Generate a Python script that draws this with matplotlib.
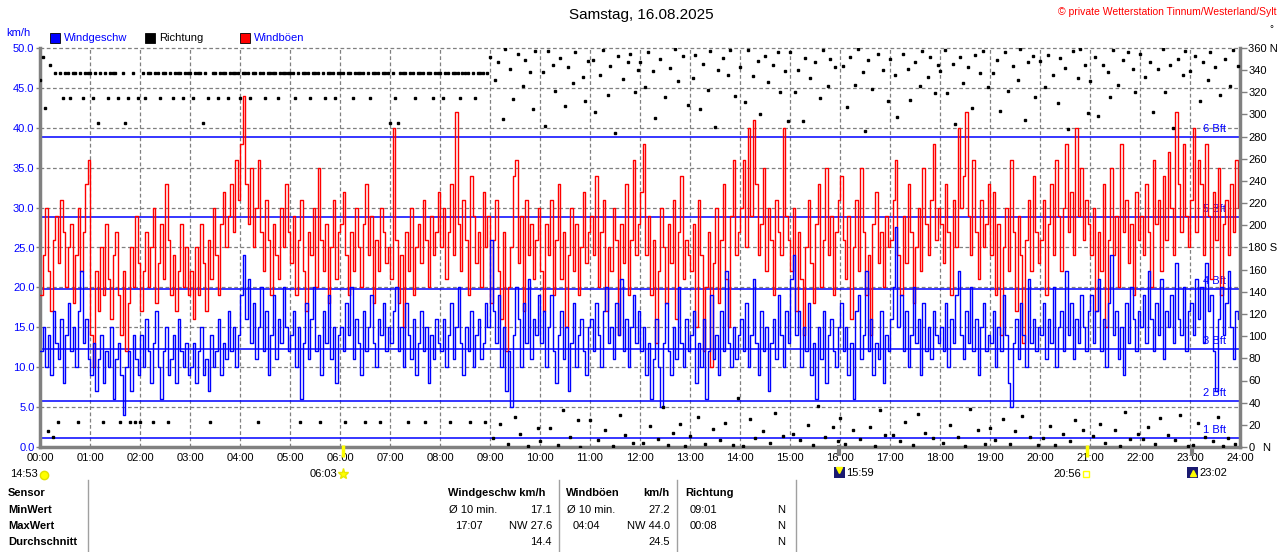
import numpy as np
import matplotlib
matplotlib.use("Agg")
import matplotlib.pyplot as plt
from matplotlib.patches import Rectangle

plt.rcParams['font.family'] = ['Liberation Sans', 'DejaVu Sans']

# Windböen (km/h), 3-Minuten-Werte, eine Zeile je Stunde
gust = [
    19, 24, 30, 22, 17, 26, 29, 23, 31, 27, 20, 25, 28, 18, 24, 30, 22, 27, 33, 36,
    14, 10, 22, 17, 25, 19, 28, 21, 16, 24, 27, 19, 14, 22, 12, 18, 25, 20, 29, 23,
    17, 22, 27, 20, 25, 30, 18, 23, 28, 21, 33, 26, 19, 24, 17, 22, 28, 20, 25, 19,
    22, 16, 25, 19, 28, 23, 17, 26, 21, 30, 24, 19, 28, 32, 25, 29, 33, 27, 36, 31,
    38, 44, 33, 28, 35, 25, 30, 36, 27, 22, 31, 26, 19, 28, 24, 21, 30, 25, 33, 27,
    23, 29, 19, 26, 31, 22, 17, 27, 24, 30, 20, 35, 26, 22, 28, 18, 25, 31, 21, 27,
    28, 32, 24, 19, 27, 22, 30, 25, 20, 28, 33, 24, 29, 18, 26, 22, 30, 27, 23, 25,
    21, 40, 26, 18, 24, 15, 27, 22, 30, 19, 25, 28, 23, 31, 26, 20, 29, 24, 27, 32,
    25, 30, 21, 27, 33, 24, 42, 28, 22, 31, 26, 19, 34, 29, 23, 27, 20, 32, 25, 29,
    18, 26, 31, 22, 16, 27, 12, 20, 25, 34, 36, 23, 29, 17, 31, 24, 28, 21, 26, 30,
    22, 17, 28, 24, 31, 19, 26, 33, 21, 27, 15, 24, 30, 22, 28, 19, 25, 32, 23, 27,
    29, 24, 34, 20, 27, 31, 17, 25, 22, 30, 26, 14, 28, 23, 33, 19, 26, 36, 24, 28,
    32, 38, 24, 29, 19, 26, 13, 22, 30, 25, 18, 28, 23, 31, 16, 27, 34, 21, 26, 24,
    22, 28, 15, 31, 24, 12, 20, 27, 10, 23, 30, 18, 26, 33, 21, 15, 29, 36, 24, 27,
    30, 36, 25, 40, 29, 41, 33, 24, 28, 35, 22, 30, 26, 19, 31, 27, 24, 40, 29, 26,
    22, 30, 17, 27, 21, 14, 25, 31, 23, 18, 28, 33, 20, 26, 35, 24, 29, 19, 27, 31,
    34, 26, 21, 29, 16, 25, 31, 22, 35, 27, 19, 24, 14, 28, 32, 23, 27, 20, 29, 25,
    26, 31, 36, 24, 19, 29, 23, 33, 27, 18, 25, 30, 22, 35, 28, 24, 31, 38, 26, 30,
    28, 23, 33, 27, 19, 31, 25, 40, 30, 34, 42, 29, 24, 36, 27, 21, 31, 25, 28, 33,
    24, 32, 19, 28, 14, 25, 30, 22, 36, 27, 17, 29, 24, 13, 26, 31, 22, 34, 27, 23,
    26, 31, 19, 28, 33, 24, 36, 29, 22, 30, 38, 27, 32, 24, 40, 29, 35, 26, 31, 28,
    24, 30, 17, 27, 22, 33, 15, 26, 35, 24, 29, 20, 38, 27, 31, 23, 28, 19, 32, 26,
    29, 24, 33, 27, 20, 36, 28, 31, 22, 34, 26, 37, 30, 24, 42, 33, 27, 38, 29, 25,
    31, 40, 27, 36, 33, 24, 38, 29, 21, 32, 26, 35, 19, 28, 31, 24, 33, 27, 36, 30,
]

# Windgeschwindigkeit (km/h)
speed = [
    12, 15, 10, 14, 9, 17, 13, 11, 16, 8, 14, 18, 12, 15, 10, 17, 22, 13, 16, 11,
    9, 13, 7, 11, 14, 8, 12, 10, 15, 6, 11, 13, 9, 4, 10, 12, 7, 14, 11, 9,
    14, 10, 16, 12, 8, 13, 17, 10, 6, 12, 15, 9, 11, 14, 8, 16, 12, 10, 13, 9,
    10, 13, 8, 12, 15, 9, 11, 7, 14, 10, 12, 16, 9, 13, 11, 17, 12, 15, 10, 14,
    19, 24, 16, 21, 13, 18, 11, 15, 20, 12, 17, 9, 14, 19, 11, 16, 13, 20, 15, 12,
    14, 17, 10, 15, 6, 13, 18, 11, 16, 20, 12, 14, 9, 17, 13, 19, 11, 15, 8, 14,
    15, 12, 18, 14, 20, 11, 16, 13, 9, 17, 12, 15, 19, 13, 10, 16, 14, 18, 12, 15,
    13, 17, 20, 12, 15, 10, 18, 14, 11, 16, 9, 13, 17, 12, 15, 8, 14, 11, 16, 13,
    12, 16, 10, 14, 18, 11, 15, 20, 13, 9, 15, 12, 17, 10, 14, 16, 11, 13, 18, 15,
    26, 17, 13, 19, 10, 15, 7, 12, 5, 14, 20, 16, 10, 18, 13, 21, 11, 16, 14, 19,
    13, 17, 10, 15, 19, 12, 8, 14, 17, 11, 15, 7, 13, 18, 10, 14, 16, 12, 9, 15,
    16, 12, 18, 14, 10, 17, 20, 13, 15, 11, 18, 14, 21, 12, 16, 10, 15, 19, 13, 17,
    12, 15, 9, 13, 6, 11, 16, 10, 5, 13, 18, 12, 9, 15, 11, 20, 13, 10, 16, 12,
    14, 17, 8, 13, 10, 16, 6, 12, 19, 11, 14, 9, 17, 12, 22, 13, 10, 15, 11, 14,
    16, 12, 18, 10, 14, 21, 13, 9, 17, 12, 15, 7, 13, 16, 11, 19, 14, 10, 17, 13,
    21, 24, 14, 17, 10, 15, 12, 18, 9, 13, 6, 15, 11, 17, 8, 14, 16, 12, 10, 15,
    18, 12, 15, 9, 13, 6, 17, 19, 11, 14, 22, 12, 16, 9, 13, 11, 17, 8, 14, 12,
    16, 20, 27.6, 15, 19, 12, 17, 10, 14, 20, 13, 16, 9, 18, 12, 15, 11, 17, 14, 13,
    15, 12, 18, 10, 16, 13, 19, 22, 14, 11, 17, 13, 20, 12, 16, 9, 15, 18, 12, 14,
    13, 17, 10, 15, 12, 19, 14, 8, 5, 13, 16, 11, 18, 14, 10, 21, 13, 16, 12, 15,
    14, 18, 11, 16, 13, 20, 10, 15, 17, 12, 22, 14, 18, 11, 16, 13, 19, 15, 12, 17,
    19, 13, 17, 21, 12, 16, 10, 18, 24, 14, 17, 11, 15, 9, 18, 13, 20, 16, 12, 17,
    15, 19, 13, 22, 16, 12, 18, 14, 21, 11, 17, 15, 19, 13, 23, 16, 14, 20, 12, 17,
    18, 14, 21, 16, 20, 13, 23, 17, 19, 12, 7, 16, 20, 14, 18, 22, 15, 11, 17, 16,
]

# Windrichtung (Grad)
direction = [
    331, 352, 306, 14, 345, 9, 337.5, 22.5, 337.5, 315, 337.5, 337.5, 315, 337.5, 337.5, 22.5, 337.5, 315, 337.5, 337.5,
    337.5, 315, 337.5, 292.5, 337.5, 22.5, 337.5, 315, 337.5, 337.5, 337.5, 315, 22.5, 337.5, 292.5, 315, 22.5, 337.5, 22.5, 315,
    22.5, 337.5, 315, 337.5, 337.5, 22.5, 337.5, 337.5, 315, 337.5, 337.5, 22.5, 337.5, 315, 337.5, 337.5, 337.5, 315, 337.5, 337.5,
    337.5, 315, 337.5, 337.5, 337.5, 292.5, 337.5, 315, 22.5, 337.5, 337.5, 315, 337.5, 337.5, 337.5, 315, 337.5, 337.5, 337.5, 337.5,
    315, 337.5, 337.5, 337.5, 315, 337.5, 337.5, 22.5, 337.5, 337.5, 315, 337.5, 337.5, 337.5, 337.5, 315, 337.5, 337.5, 337.5, 337.5,
    337.5, 337.5, 315, 337.5, 22.5, 337.5, 337.5, 337.5, 315, 337.5, 337.5, 337.5, 22.5, 337.5, 315, 337.5, 337.5, 337.5, 315, 337.5,
    337.5, 337.5, 22.5, 337.5, 337.5, 315, 337.5, 337.5, 337.5, 337.5, 22.5, 337.5, 315, 337.5, 337.5, 337.5, 22.5, 337.5, 337.5, 337.5,
    292.5, 337.5, 315, 292.5, 337.5, 337.5, 337.5, 22.5, 337.5, 337.5, 315, 337.5, 337.5, 337.5, 22.5, 337.5, 337.5, 315, 337.5, 337.5,
    337.5, 315, 337.5, 337.5, 22.5, 337.5, 337.5, 337.5, 315, 337.5, 337.5, 337.5, 22.5, 337.5, 315, 337.5, 337.5, 337.5, 22.5, 337.5,
    352, 8, 331, 347, 21, 296, 359, 3, 341, 314, 27, 355, 12, 326, 349, 1, 338, 305, 357, 17,
    5, 338, 290, 357, 17, 345, 321, 2, 351, 33, 308, 343, 9, 328, 356, 24, 0, 334, 312, 348,
    24, 349, 302, 6, 336, 358, 15, 318, 344, 1, 283, 353, 29, 332, 11, 347, 355, 4, 320, 340,
    347, 4, 325, 356, 19, 339, 297, 7, 350, 36, 316, 2, 342, 13, 359, 330, 21, 353, 1, 309,
    10, 333, 354, 27, 305, 346, 3, 322, 357, 16, 289, 340, 6, 351, 22, 336, 358, 2, 317, 44,
    343, 1, 311, 358, 25, 335, 8, 348, 300, 14, 353, 329, 4, 345, 31, 356, 320, 10, 339, 294,
    356, 12, 320, 340, 6, 294, 351, 20, 333, 2, 347, 37, 315, 358, 9, 326, 350, 18, 343, 5,
    26, 344, 3, 307, 352, 15, 327, 359, 7, 338, 285, 349, 18, 323, 1, 355, 33, 340, 11, 312,
    350, 11, 336, 298, 5, 355, 23, 341, 313, 2, 347, 30, 326, 357, 13, 334, 352, 8, 319, 345,
    339, 4, 358, 319, 20, 346, 291, 9, 352, 328, 1, 343, 34, 306, 354, 15, 337, 357, 3, 325,
    17, 337, 6, 349, 303, 25, 356, 321, 3, 344, 14, 331, 359, 28, 295, 347, 9, 353, 316, 2,
    348, 8, 325, 354, 19, 336, 2, 310, 351, 12, 342, 287, 5, 357, 24, 333, 359, 15, 345, 301,
    330, 10, 352, 299, 21, 345, 4, 338, 316, 358, 15, 327, 1, 349, 32, 356, 7, 341, 320, 12,
    355, 7, 334, 18, 347, 302, 3, 341, 26, 359, 320, 11, 345, 288, 6, 350, 29, 336, 357, 1,
    339, 2, 353, 22, 312, 347, 9, 331, 356, 5, 343, 27, 318, 1, 350, 8, 326, 358, 3, 344,
]

bft_limits = [1.08, 5.76, 12.24, 19.8, 28.8, 38.88]
bft_labels = ["1 Bft", "2 Bft", "3 Bft", "4 Bft", "5 Bft", "6 Bft"]
hour_labels = ["%02d:00" % h for h in range(25)]

t = np.arange(len(gust)) * 3 / 60.0
t_ext = np.append(t, 24.0)
gust_ext = np.append(gust, gust[-1])
speed_ext = np.append(speed, speed[-1])

BLUE = "#0000ff"
GRAY = "#808080"

fig = plt.figure(figsize=(12.8, 5.52), dpi=100)
ax = fig.add_axes([40 / 1280, 105 / 552, 1200 / 1280, 399 / 552])
ax.set_xlim(0, 24)
ax.set_ylim(0, 50)

# Gitter
for h in range(1, 24):
    ax.axvline(h, color=GRAY, lw=0.9, ls=(0, (3, 2)), zorder=1)
for v in np.arange(5, 51, 5):
    ax.axhline(v, color=GRAY, lw=0.9, ls=(0, (3, 2)), zorder=1, clip_on=False)

# Beaufort-Grenzen
for v, lab in zip(bft_limits, bft_labels):
    ax.axhline(v, color=BLUE, lw=1.1, zorder=2)
    ax.text(23.72, v + 1.0, lab, color=BLUE, fontsize=8, ha='right', va='center', zorder=2)

ax.plot(t_ext, gust_ext, color='#ff0000', lw=1.0, drawstyle='steps-post', zorder=3)
ax.plot(t_ext, speed_ext, color=BLUE, lw=1.0, drawstyle='steps-post', zorder=4)

ax.set_xticks(range(25))
ax.set_xticklabels(hour_labels)
ax.set_yticks(np.arange(0, 51, 5))
ax.set_yticklabels(["%.1f" % v for v in np.arange(0, 51, 5)])
ax.tick_params(axis='x', length=0, pad=4, labelsize=8)
ax.tick_params(axis='y', length=3, width=1, color=GRAY, pad=1, labelsize=8, labelcolor=BLUE)
for s in ['left', 'bottom']:
    ax.spines[s].set_color(GRAY)
    ax.spines[s].set_linewidth(2.5)
ax.spines['top'].set_visible(False)
ax.spines['right'].set_visible(False)

ax2 = ax.twinx()
ax2.set_ylim(0, 360)
ax2.plot(t, direction, ls='none', marker='s', ms=2.0, color='black', mec='black', zorder=5)
ax2.set_yticks(range(0, 361, 20))
rlabels = [str(v) for v in range(0, 361, 20)]
rlabels[9] = "180 S"
rlabels[18] = "360 N"
ax2.set_yticklabels(rlabels)
ax2.tick_params(axis='y', length=5, width=1, color=GRAY, pad=1, labelsize=8)
ax2.spines['right'].set_color(GRAY)
ax2.spines['right'].set_linewidth(2.5)
for s in ['left', 'bottom', 'top']:
    ax2.spines[s].set_visible(False)

# Sonnen- und Mondzeiten
ax.vlines([6.05, 20.93], -1.3, 0.3, color='#ffff00', lw=2.5, clip_on=False, zorder=6)
ax.vlines([15.98, 23.03], -1.1, 0.3, color=GRAY, lw=3, clip_on=False, zorder=6)

ov = fig.add_axes([0, 0, 1, 1])
ov.set_xlim(0, 1280)
ov.set_ylim(552, 0)
ov.axis('off')

ov.text(641, 15, "Samstag, 16.08.2025", fontsize=11, ha='center', va='center')
ov.text(1277, 12, "© private Wetterstation Tinnum/Westerland/Sylt", fontsize=7.5,
        color='#ff0000', ha='right', va='center')
ov.text(1271, 29, "°", fontsize=7, ha='center', va='center')
ov.text(6, 33, "km/h", fontsize=8, color=BLUE, ha='left', va='center')
ov.text(1262, 448, "N", fontsize=8, ha='left', va='center')

# Legende
for x0, col, lab, tcol in [(50, BLUE, "Windgeschw", BLUE), (145, 'black', "Richtung", 'black'),
                           (240, '#ff0000', "Windböen", BLUE)]:
    ov.add_patch(Rectangle((x0, 33), 10, 10, facecolor=col, edgecolor='black', lw=0.6))
    ov.text(x0 + 14, 38, lab, fontsize=8, color=tcol, ha='left', va='center')

# Zeiten unter der Achse
ov.text(10, 474, "14:53", fontsize=8, ha='left', va='center')
ov.plot(44, 475, marker='o', ms=6, color='#ffff00', mec='#e0e000')
ov.text(310, 474, "06:03", fontsize=8, ha='left', va='center')
ov.plot(343, 474, marker='*', ms=8, color='#ffff00', mec='#e8e800')
ov.add_patch(Rectangle((834, 467), 11, 11, facecolor='#1a1a70', edgecolor='none'))
ov.plot(839, 470, marker='v', ms=4, color='#ffff00')
ov.text(846, 473, "15:59", fontsize=8, ha='left', va='center')
ov.text(1053, 474, "20:56", fontsize=8, ha='left', va='center')
ov.plot(1086, 474, marker='s', ms=5, mfc='none', mec='#ffff00', mew=1)
ov.add_patch(Rectangle((1187, 467), 11, 11, facecolor='#1a1a70', edgecolor='none'))
ov.plot(1193, 473, marker='^', ms=4, color='#ffff00')
ov.text(1199, 473, "23:02", fontsize=8, ha='left', va='center')

# Tabelle
for x in [88, 559, 677, 796]:
    ov.plot([x, x], [480, 552], color='#a0a0a0', lw=1)
rows_y = [493, 510, 526, 542]
for y, lab in zip(rows_y, ["Sensor", "MinWert", "MaxWert", "Durchschnitt"]):
    ov.text(8, y, lab, fontsize=8, fontweight='bold', ha='left', va='center')

ov.text(448, rows_y[0], "Windgeschw km/h", fontsize=8, fontweight='bold', ha='left', va='center')
ov.text(449, rows_y[1], "Ø 10 min.", fontsize=8, ha='left', va='center')
ov.text(552, rows_y[1], "17.1", fontsize=8, ha='right', va='center')
ov.text(455, rows_y[2], "17:07", fontsize=8, ha='left', va='center')
ov.text(552, rows_y[2], "NW 27.6", fontsize=8, ha='right', va='center')
ov.text(552, rows_y[3], "14.4", fontsize=8, ha='right', va='center')

ov.text(566, rows_y[0], "Windböen", fontsize=8, fontweight='bold', ha='left', va='center')
ov.text(670, rows_y[0], "km/h", fontsize=8, fontweight='bold', ha='right', va='center')
ov.text(567, rows_y[1], "Ø 10 min.", fontsize=8, ha='left', va='center')
ov.text(670, rows_y[1], "27.2", fontsize=8, ha='right', va='center')
ov.text(573, rows_y[2], "04:04", fontsize=8, ha='left', va='center')
ov.text(670, rows_y[2], "NW 44.0", fontsize=8, ha='right', va='center')
ov.text(670, rows_y[3], "24.5", fontsize=8, ha='right', va='center')

ov.text(685, rows_y[0], "Richtung", fontsize=8, fontweight='bold', ha='left', va='center')
ov.text(690, rows_y[1], "09:01", fontsize=8, ha='left', va='center')
ov.text(690, rows_y[2], "00:08", fontsize=8, ha='left', va='center')
for y in rows_y[1:]:
    ov.text(785, y, "N", fontsize=8, ha='right', va='center')

fig.savefig("out.png", dpi=100)
